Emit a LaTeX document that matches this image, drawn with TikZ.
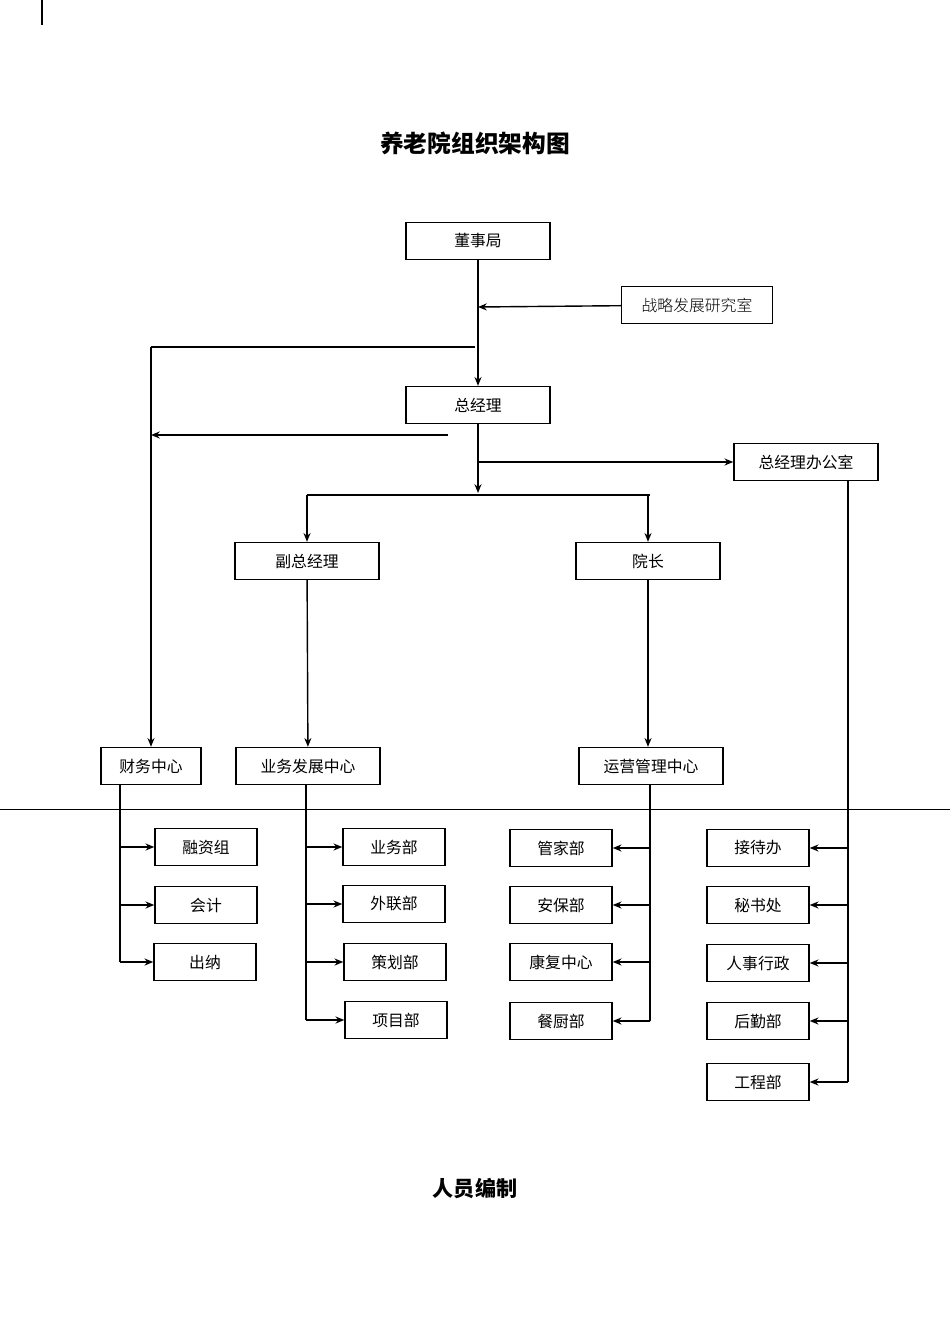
\documentclass[tikz,border=0pt]{standalone}
\usepackage{fontspec}
\setmainfont{Noto Sans CJK SC}
\newfontfamily\serifcjk{Noto Sans CJK SC Light}
\usetikzlibrary{arrows.meta}
\tikzset{
  box/.style={draw,thick,minimum width=144*0.02cm,minimum height=37*0.02cm,font=\fontsize{9}{10}\selectfont,inner sep=0pt},
  sbox/.style={box,minimum width=102*0.02cm},
  link/.style={thick,-{Stealth[length=5pt,width=4pt]}},
  line/.style={thick}
}
\begin{document}
\begin{tikzpicture}[x=0.02cm,y=-0.02cm]
		\useasboundingbox (0,0) rectangle (950,1344);
		\draw[thick] (42,0) -- (42,25);
		\node[font=\fontsize{13.5}{15}\selectfont\bfseries] (title) at (475,143) {养老院组织架构图};
		\node[font=\fontsize{12}{14}\selectfont\bfseries] (staff) at (475,1189) {人员编制};
		% top level
		\node[box] (board) at (478,241) {董事局};
		\node[box,minimum width=151*0.02cm,font=\fontsize{9}{10}\selectfont\serifcjk] (research) at (697,305) {战略发展研究室};
		\node[box] (gm) at (478,405) {总经理};
		\node[box] (gmoffice) at (806,462) {总经理办公室};
		\node[box] (vgm) at (307,561) {副总经理};
		\node[box] (dean) at (648,561) {院长};
		\node[box,minimum width=100*0.02cm] (finance) at (151,766) {财务中心};
		\node[box] (business) at (308,766) {业务发展中心};
		\node[box] (operation) at (651,766) {运营管理中心};
		\draw[thin] (0,809) -- (950,809);
		% departments
		\node[sbox] (fund) at (206,847) {融资组};
		\node[sbox] (account) at (206,905) {会计};
		\node[sbox] (cashier) at (205,962) {出纳};
		\node[sbox] (bizdept) at (394,847) {业务部};
		\node[sbox] (liaison) at (394,904) {外联部};
		\node[sbox] (plan) at (395,962) {策划部};
		\node[sbox] (project) at (396,1020) {项目部};
		\node[sbox] (butler) at (561,848) {管家部};
		\node[sbox] (security) at (561,905) {安保部};
		\node[sbox] (rehab) at (561,962) {康复中心};
		\node[sbox] (kitchen) at (561,1021) {餐厨部};
		\node[sbox] (reception) at (758,848) {接待办};
		\node[sbox] (secretary) at (758,905) {秘书处};
		\node[sbox] (hr) at (758,963) {人事行政};
		\node[sbox] (logistics) at (758,1021) {后勤部};
		\node[sbox] (engineer) at (758,1082) {工程部};
		% upper connectors
		\coordinate (j1) at (478,307);
		\coordinate (j2) at (478,493);
		\draw[link] (board) -- (gm);
		\draw[link] (research) -- (j1);
		\draw[line] (475,347) -- (151,347);
		\draw[link] (151,347) -- (finance);
		\draw[link] (448,435) -- (151,435);
		\draw[link] (478,462) -- (gmoffice);
		\draw[link] (gm) -- (j2);
		\draw[line] (307,495) -- (650,495);
		\draw[link] (307,495) -- (vgm);
		\draw[link] (648,495) -- (dean);
		\draw[link] (vgm) -- (business);
		\draw[link] (dean) -- (operation.north -| dean);
		% finance
		\draw[line] (120,785) -- (120,962);
		\foreach \n in {fund,account,cashier}
			\draw[link] (\n.west -| 120,0) -- (\n.west);
		% business
		\draw[line] (306,785) -- (306,1020);
		\foreach \n in {bizdept,liaison,plan,project}
			\draw[link] (\n.west -| 306,0) -- (\n.west);
		% operation
		\draw[line] (650,785) -- (650,1021);
		\foreach \n in {butler,security,rehab,kitchen}
			\draw[link] (\n.east -| 650,0) -- (\n.east);
		% office
		\draw[line] (848,481) -- (848,1082);
		\foreach \n in {reception,secretary,hr,logistics,engineer}
			\draw[link] (\n.east -| 848,0) -- (\n.east);
\end{tikzpicture}
\end{document}
